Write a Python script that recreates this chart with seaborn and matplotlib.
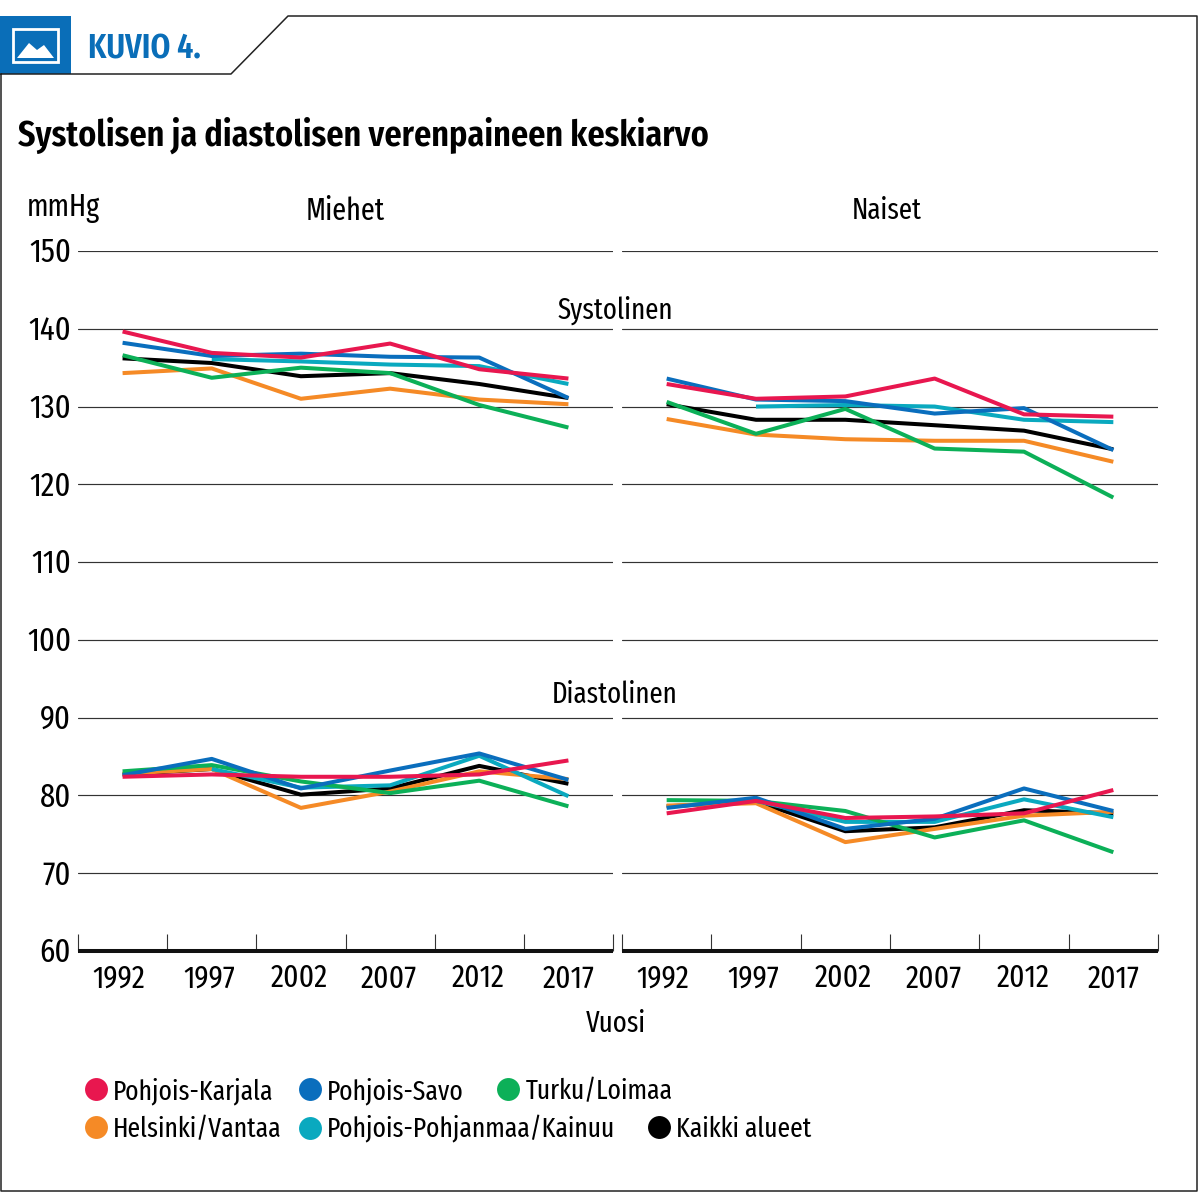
import matplotlib
matplotlib.use('Agg')
import matplotlib.pyplot as plt
from matplotlib.lines import Line2D
from matplotlib.patches import Polygon, Rectangle
from matplotlib.transforms import ScaledTranslation
import numpy as np
import pandas as pd
import seaborn as sns

years = [1992, 1997, 2002, 2007, 2012, 2017]
regions = ['Kaikki alueet', 'Helsinki/Vantaa', 'Pohjois-Pohjanmaa/Kainuu', 'Turku/Loimaa', 'Pohjois-Savo', 'Pohjois-Karjala']

# Miehet, systolinen
m_sys_karjala = [139.65, 136.9, 136.3, 138.1, 134.8, 133.6]
m_sys_savo = [138.2, 136.5, 136.8, 136.4, 136.3, 131.1]
m_sys_turku = [136.6, 133.7, 135.0, 134.3, 130.2, 127.3]
m_sys_helsinki = [134.3, 134.9, 131.0, 132.3, 130.9, 130.3]
m_sys_pohjanmaa = [np.nan, 136.1, 135.8, 135.4, 135.2, 132.9]
m_sys_kaikki = [136.2, 135.6, 133.9, 134.3, 132.9, 131.1]

# Miehet, diastolinen
m_dia_karjala = [82.4, 82.7, 82.4, 82.4, 82.7, 84.5]
m_dia_savo = [82.6, 84.7, 80.9, 83.2, 85.4, 82.0]
m_dia_turku = [83.1, 83.9, 81.8, 80.3, 81.9, 78.6]
m_dia_helsinki = [82.8, 83.4, 78.4, 80.5, 83.1, 82.1]
m_dia_pohjanmaa = [np.nan, 83.4, 81.0, 81.3, 85.1, 79.9]
m_dia_kaikki = [82.7, 83.4, 80.1, 80.9, 83.8, 81.5]

# Naiset, systolinen
n_sys_karjala = [132.9, 131.0, 131.3, 133.6, 129.0, 128.7]
n_sys_savo = [133.6, 130.9, 130.7, 129.1, 129.8, 124.4]
n_sys_turku = [130.6, 126.5, 129.7, 124.6, 124.2, 118.3]
n_sys_helsinki = [128.4, 126.4, 125.8, 125.6, 125.6, 122.9]
n_sys_pohjanmaa = [np.nan, 130.0, 130.2, 130.0, 128.3, 128.0]
n_sys_kaikki = [130.3, 128.3, 128.3, 127.6, 126.9, 124.5]

# Naiset, diastolinen
n_dia_karjala = [77.7, 79.3, 77.1, 77.3, 77.7, 80.7]
n_dia_savo = [78.4, 79.7, 75.7, 77.0, 80.9, 78.0]
n_dia_turku = [79.4, 79.3, 78.0, 74.6, 76.8, 72.7]
n_dia_helsinki = [78.7, 79.0, 74.0, 75.7, 77.4, 77.9]
n_dia_pohjanmaa = [np.nan, 79.3, 76.6, 76.6, 79.5, 77.2]
n_dia_kaikki = [78.6, 79.2, 75.4, 75.9, 78.1, 77.7]

palette = {
    'Pohjois-Karjala': '#E8174F',
    'Pohjois-Savo': '#0A6EBD',
    'Turku/Loimaa': '#0CB058',
    'Helsinki/Vantaa': '#F58A26',
    'Pohjois-Pohjanmaa/Kainuu': '#0AA9BF',
    'Kaikki alueet': '#000000',
}
y_ticks = [60, 70, 80, 90, 100, 110, 120, 130, 140, 150]

sns.set_theme(style='white')
plt.rcParams['font.family'] = ['Fira Sans Extra Condensed', 'Liberation Sans', 'DejaVu Sans']

W, H = 1199, 1196


def make_frame(sys_series, dia_series):
    rows = []
    for measure, series in (('sys', sys_series), ('dia', dia_series)):
        for region, values in zip(regions, series):
            rows.append(pd.DataFrame({'Vuosi': years, 'arvo': values, 'alue': region, 'mitta': measure}))
    return pd.concat(rows).dropna()


miehet = make_frame(
    [m_sys_kaikki, m_sys_helsinki, m_sys_pohjanmaa, m_sys_turku, m_sys_savo, m_sys_karjala],
    [m_dia_kaikki, m_dia_helsinki, m_dia_pohjanmaa, m_dia_turku, m_dia_savo, m_dia_karjala])
naiset = make_frame(
    [n_sys_kaikki, n_sys_helsinki, n_sys_pohjanmaa, n_sys_turku, n_sys_savo, n_sys_karjala],
    [n_dia_kaikki, n_dia_helsinki, n_dia_pohjanmaa, n_dia_turku, n_dia_savo, n_dia_karjala])

fig = plt.figure(figsize=(W / 100, H / 100), dpi=100)

# kehys ja otsikkopalkki pikseleissä
bg = fig.add_axes([0, 0, 1, 1])
bg.set_xlim(0, W)
bg.set_ylim(H, 0)
bg.axis('off')
bg.plot([1, 1, 1197, 1197, 288, 231, 1], [74, 1191, 1191, 16, 16, 74, 74], color='#222222', lw=1.1)
bg.add_patch(Rectangle((0, 16), 71, 58, color='#0A6EB8', lw=0))
bg.add_patch(Rectangle((13, 29), 45, 33, fill=False, ec='white', lw=2))
bg.add_patch(Polygon([[17, 58], [29, 43], [37, 50], [44, 45], [54, 58]], color='white', lw=0))
bg.text(88, 49, 'KUVIO 4.', color='#0A6EB8', fontsize=25, fontweight='semibold', va='center', ha='left')
bg.text(18, 135, 'Systolisen ja diastolisen verenpaineen keskiarvo', color='black',
        fontsize=26.7, fontweight='semibold', va='center', ha='left')
for x, y, label, align, size in [(27, 208, 'mmHg', 'left', 22), (345, 211, 'Miehet', 'center', 22),
                                 (887, 211, 'Naiset', 'center', 21), (615, 310, 'Systolinen', 'center', 21),
                                 (615, 695, 'Diastolinen', 'center', 21), (616, 1024, 'Vuosi', 'center', 21)]:
    bg.text(x, y, label, fontsize=size, va='center', ha=align, color='black')

panels = [(miehet, 78, 613, True), (naiset, 622, 1158, False)]
for data, x0, x1, show_y in panels:
    ax = fig.add_axes([x0 / W, 1 - 951 / H, (x1 - x0) / W, 700 / H])
    ax.patch.set_alpha(0)
    for measure in ['sys', 'dia']:
        sns.lineplot(data=data[data['mitta'] == measure], x='Vuosi', y='arvo', hue='alue',
                     hue_order=regions, palette=palette, estimator=None, sort=False,
                     linewidth=2.9, legend=False, ax=ax, clip_on=False, solid_capstyle='butt')
    ax.set_xlim(1989.5, 2019.5)
    ax.set_ylim(60, 150)
    ax.set_yticks(y_ticks)
    ax.grid(axis='y', color='#333333', lw=0.85)
    ax.grid(axis='x', visible=False)
    ax.set_axisbelow(True)
    ax.set_xlabel('')
    ax.set_ylabel('')
    sns.despine(ax=ax, left=True)
    ax.spines['bottom'].set_linewidth(2.9)
    ax.spines['bottom'].set_color('#111111')
    ax.spines['bottom'].set_capstyle('butt')
    # väliviivat vuosien välissä, vuosiluvut keskellä
    ax.set_xticks(np.arange(1989.5, 2020, 5))
    ax.set_xticklabels([])
    ax.set_xticks(years, minor=True)
    ax.set_xticklabels([str(y) for y in years], minor=True, fontsize=23, color='black')
    ax.tick_params(axis='x', which='major', direction='in', length=12, width=0.8, color='#333333', bottom=True)
    ax.tick_params(axis='x', which='minor', length=0, pad=9, bottom=False)
    ax.tick_params(axis='y', length=0, labelsize=24, pad=5, labelcolor='black', labelleft=show_y)
    # vuosiluvut hieman vasemmalla pisteistä kuten alkuperäisessä
    for i, lab in enumerate(ax.get_xticklabels(minor=True)):
        dx = (-3.5 + 0.7 * i) / 100
        lab.set_transform(lab.get_transform() + ScaledTranslation(dx, 0, fig.dpi_scale_trans))
    for lab in ax.get_yticklabels():
        lab.set_transform(lab.get_transform() + ScaledTranslation(0, 0.015, fig.dpi_scale_trans))

# selite: rivit eivät ole samassa ruudukossa, joten jokainen merkintä erikseen
legend_names = ['Pohjois-Karjala', 'Pohjois-Savo', 'Turku/Loimaa', 'Helsinki/Vantaa', 'Pohjois-Pohjanmaa/Kainuu', 'Kaikki alueet']
legend_x = [85, 299, 497, 85, 299, 648]
legend_y = [1091, 1091, 1091, 1129, 1129, 1129]
for name, lx, ly in zip(legend_names, legend_x, legend_y):
    handle = Line2D([], [], ls='', marker='o', ms=16.5, mec='none', mfc=palette[name], label=name)
    fig.legend(handles=[handle], loc='center left', bbox_to_anchor=(lx / W, 1 - ly / H), frameon=False,
               fontsize=20, handletextpad=0.22, handlelength=0.8, labelcolor='black', borderpad=0, borderaxespad=0)

fig.savefig('out.png', dpi=100, facecolor='white')
